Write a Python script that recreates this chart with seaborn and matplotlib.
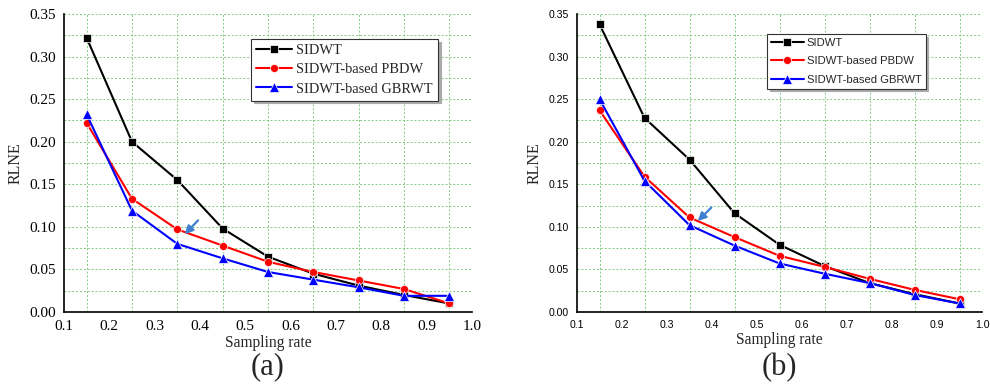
import numpy as np
import pandas as pd
import matplotlib
matplotlib.use("Agg")
import matplotlib.pyplot as plt
import seaborn as sns
from matplotlib.ticker import MultipleLocator, FixedLocator

sns.set_theme(style="white")

rates = [0.15, 0.25, 0.35, 0.45, 0.55, 0.65, 0.75, 0.85, 0.95]
series_names = ["SIDWT", "SIDWT-based PBDW", "SIDWT-based GBRWT"]

a_sidwt = [0.322, 0.200, 0.155, 0.098, 0.065, 0.045, 0.031, 0.020, 0.010]
a_pbdw = [0.222, 0.133, 0.097, 0.078, 0.059, 0.047, 0.037, 0.027, 0.010]
a_gbrwt = [0.232, 0.119, 0.080, 0.063, 0.047, 0.038, 0.029, 0.019, 0.019]

b_sidwt = [0.338, 0.228, 0.179, 0.116, 0.079, 0.054, 0.034, 0.021, 0.010]
b_pbdw = [0.237, 0.159, 0.111, 0.088, 0.066, 0.053, 0.039, 0.026, 0.015]
b_gbrwt = [0.250, 0.154, 0.102, 0.078, 0.057, 0.045, 0.034, 0.020, 0.010]

x_ticks = [0.1, 0.2, 0.3, 0.4, 0.5, 0.6, 0.7, 0.8, 0.9, 1.0]
y_ticks = [0.00, 0.05, 0.10, 0.15, 0.20, 0.25, 0.30, 0.35]
panel_labels = ["(a)", "(b)"]


def long_df(s1, s2, s3):
    rows = []
    for name, vals in zip(series_names, [s1, s2, s3]):
        for x, y in zip(rates, vals):
            rows.append({"rate": x, "RLNE": y, "method": name})
    return pd.DataFrame(rows)


palette = {"SIDWT": "#000000", "SIDWT-based PBDW": "#ff0000", "SIDWT-based GBRWT": "#0000ff"}
markers = {"SIDWT": "s", "SIDWT-based PBDW": "o", "SIDWT-based GBRWT": "^"}
msizes = {"s": 5.2, "o": 5.8, "^": 6.8}

fig = plt.figure(figsize=(9.91, 3.89), dpi=100)
ax1 = fig.add_axes([64 / 991, 1 - 312 / 389, 408 / 991, 298 / 389])
ax2 = fig.add_axes([577 / 991, 1 - 312 / 389, 405 / 991, 298 / 389])

grid_col = "#80cc80"

configs = [
    (ax1, long_df(a_sidwt, a_pbdw, a_gbrwt), "Liberation Serif", 11, 10.4, (0.458, 0.916), 2.5, 0.42,
     ((0.362, 0.089), (0.40, 0.110)), True),
    (ax2, long_df(b_sidwt, b_pbdw, b_gbrwt), "Liberation Sans", 7.6, 8.1, (0.469, 0.933), 2.9, 0.75,
     ((0.364, 0.1045), (0.403, 0.125)), False),
]

for i, (ax, df, tfont, tsize, lsize, lpos, hlen, lspace, arrow, vline1) in enumerate(configs):
    sns.lineplot(data=df, x="rate", y="RLNE", hue="method", style="method",
                 palette=palette, markers=markers, dashes=False, ax=ax,
                 linewidth=1.5, markersize=5.5, markeredgewidth=0.5, zorder=3)
    for ln in ax.lines:
        m = ln.get_marker()
        if m in msizes:
            ln.set_markersize(msizes[m])
    ax.set_xlim(0.1, 1.0)
    ax.set_ylim(0.0, 0.35)
    ax.xaxis.set_major_locator(FixedLocator(x_ticks))
    ax.xaxis.set_minor_locator(FixedLocator(rates))
    ax.yaxis.set_major_locator(FixedLocator(y_ticks))
    ax.yaxis.set_minor_locator(MultipleLocator(0.025))
    ax.set_xticklabels([f"{t:.1f}" for t in x_ticks], fontfamily=tfont, fontsize=tsize)
    ax.set_yticklabels([f"{t:.2f}" for t in y_ticks], fontfamily=tfont, fontsize=tsize)
    ax.tick_params(axis="x", which="major", direction="out", length=4, width=1, pad=2, colors="black")
    ax.tick_params(axis="x", which="minor", direction="in", length=3, width=1)
    ax.tick_params(axis="y", which="major", direction="out", length=4, width=1, pad=2, colors="black")
    ax.tick_params(axis="y", which="minor", direction="out", length=2.5, width=1)
    ax.grid(False)
    ax.grid(True, axis="x", which="minor", color=grid_col, linestyle=(0, (2, 2)), linewidth=0.7)
    ax.grid(True, axis="y", which="both", color=grid_col, linestyle=(0, (2, 2)), linewidth=0.7)
    if vline1:
        ax.axvline(1.0, color=grid_col, linestyle=(0, (2, 2)), linewidth=0.7)
    for s in ["top", "right"]:
        ax.spines[s].set_visible(False)
    for s in ["left", "bottom"]:
        ax.spines[s].set_color("black")
        ax.spines[s].set_linewidth(1.2)
    ax.set_xlabel("Sampling rate", fontfamily="Liberation Serif", fontsize=11.2, labelpad=1)
    ax.set_ylabel("RLNE", fontfamily="Liberation Serif", fontsize=11.5, labelpad=4)
    handles, labels = ax.get_legend_handles_labels()
    leg = ax.legend(handles, labels, loc="upper left", bbox_to_anchor=lpos, borderaxespad=0,
                    frameon=True, fancybox=False, shadow={"color": "#aaaaaa", "alpha": 1.0},
                    edgecolor="#333333",
                    prop={"family": tfont, "size": lsize}, handlelength=hlen,
                    labelspacing=lspace, borderpad=0.35, handletextpad=0.3)
    leg.get_frame().set_linewidth(0.8)
    leg.set_zorder(5)
    ax.annotate("", xy=arrow[0], xytext=arrow[1],
                arrowprops=dict(arrowstyle="-|>", color="#3f7fcf", lw=1.6, mutation_scale=12),
                zorder=6)
    ax.text(0.5, -0.185, panel_labels[i], transform=ax.transAxes, ha="center", va="center",
            fontfamily="Liberation Serif", fontsize=22)

fig.savefig("out.png", dpi=100)
